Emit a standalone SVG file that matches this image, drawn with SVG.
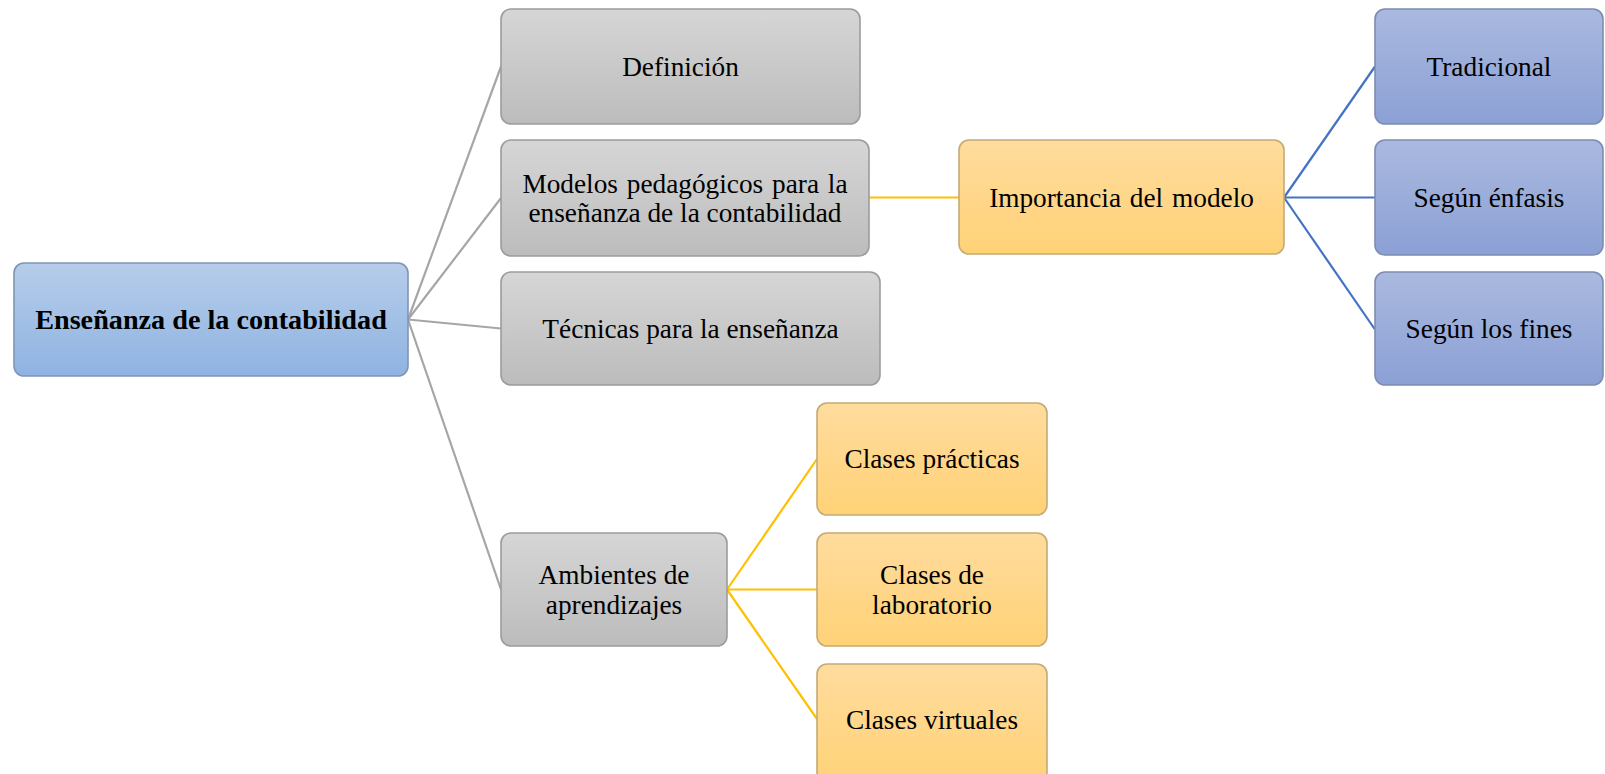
<svg xmlns="http://www.w3.org/2000/svg" width="1605" height="774" viewBox="0 0 1605 774">
<defs>
<linearGradient id="gGray" x1="0" y1="0" x2="0" y2="1"><stop offset="0" stop-color="#d6d6d6"/><stop offset="1" stop-color="#bcbcbc"/></linearGradient>
<linearGradient id="gRoot" x1="0" y1="0" x2="0" y2="1"><stop offset="0" stop-color="#b6cdea"/><stop offset="1" stop-color="#8fb3e2"/></linearGradient>
<linearGradient id="gOrange" x1="0" y1="0" x2="0" y2="1"><stop offset="0" stop-color="#ffdc9e"/><stop offset="1" stop-color="#ffd277"/></linearGradient>
<linearGradient id="gBlue" x1="0" y1="0" x2="0" y2="1"><stop offset="0" stop-color="#aab9df"/><stop offset="1" stop-color="#8ba0d5"/></linearGradient>
</defs>
<style>
.box{stroke-width:1.6}
.gray{fill:url(#gGray);stroke:#9c9c9c}
.root{fill:url(#gRoot);stroke:#7f95b5}
.orange{fill:url(#gOrange);stroke:#c4ab74}
.blue{fill:url(#gBlue);stroke:#7d8cb0}
text{font-family:"Liberation Serif","Times New Roman",serif;font-size:27.3px;fill:#000;text-anchor:middle}
.bold{font-weight:bold;font-size:28.2px}
.c{fill:none;stroke-width:2.2}
.cg{stroke:#a6a6a6}
.co{stroke:#ffc000}
.cb{stroke:#4472c4}
</style>
<g id="connectors">
<line class="c cg" x1="408" y1="319.5" x2="501" y2="66.5"/>
<line class="c cg" x1="408" y1="319.5" x2="501" y2="198"/>
<line class="c cg" x1="408" y1="319.5" x2="501" y2="328.5"/>
<line class="c cg" x1="408" y1="319.5" x2="501" y2="589.5"/>
<line class="c co" x1="869" y1="197.5" x2="959" y2="197.5"/>
<line class="c cb" x1="1284" y1="197.5" x2="1375" y2="66.5"/>
<line class="c cb" x1="1284" y1="197.5" x2="1375" y2="197.5"/>
<line class="c cb" x1="1284" y1="197.5" x2="1375" y2="329.5"/>
<line class="c co" x1="727" y1="589.5" x2="817" y2="459"/>
<line class="c co" x1="727" y1="589.5" x2="817" y2="589.5"/>
<line class="c co" x1="727" y1="589.5" x2="817" y2="719"/>
</g>
<g id="root">
<rect class="box root" x="14" y="263" width="394" height="113" rx="10"/>
<text class="bold" x="211" y="329">Enseñanza de la contabilidad</text>
</g>
<g id="definicion">
<rect class="box gray" x="501" y="9" width="359" height="115" rx="10"/>
<text x="680.5" y="76">Definición</text>
</g>
<g id="modelos">
<rect class="box gray" x="501" y="140" width="368" height="116" rx="10"/>
<text x="685" y="192.5" word-spacing="2">Modelos pedagógicos para la</text>
<text x="685" y="221.5">enseñanza de la contabilidad</text>
</g>
<g id="tecnicas">
<rect class="box gray" x="501" y="272" width="379" height="113" rx="10"/>
<text x="690.5" y="338">Técnicas para la enseñanza</text>
</g>
<g id="ambientes">
<rect class="box gray" x="501" y="533" width="226" height="113" rx="10"/>
<text x="614" y="584">Ambientes de</text>
<text x="614" y="614">aprendizajes</text>
</g>
<g id="importancia">
<rect class="box orange" x="959" y="140" width="325" height="114" rx="10"/>
<text x="1121.5" y="206.5" word-spacing="2">Importancia del modelo</text>
</g>
<g id="tradicional">
<rect class="box blue" x="1375" y="9" width="228" height="115" rx="10"/>
<text x="1489" y="76">Tradicional</text>
</g>
<g id="enfasis">
<rect class="box blue" x="1375" y="140" width="228" height="115" rx="10"/>
<text x="1489" y="206.5">Según énfasis</text>
</g>
<g id="fines">
<rect class="box blue" x="1375" y="272" width="228" height="113" rx="10"/>
<text x="1489" y="338">Según los fines</text>
</g>
<g id="practicas">
<rect class="box orange" x="817" y="403" width="230" height="112" rx="10"/>
<text x="932" y="468">Clases prácticas</text>
</g>
<g id="laboratorio">
<rect class="box orange" x="817" y="533" width="230" height="113" rx="10"/>
<text x="932" y="584">Clases de</text>
<text x="932" y="614">laboratorio</text>
</g>
<g id="virtuales">
<rect class="box orange" x="817" y="664" width="230" height="122" rx="10"/>
<text x="932" y="729">Clases virtuales</text>
</g>
</svg>
